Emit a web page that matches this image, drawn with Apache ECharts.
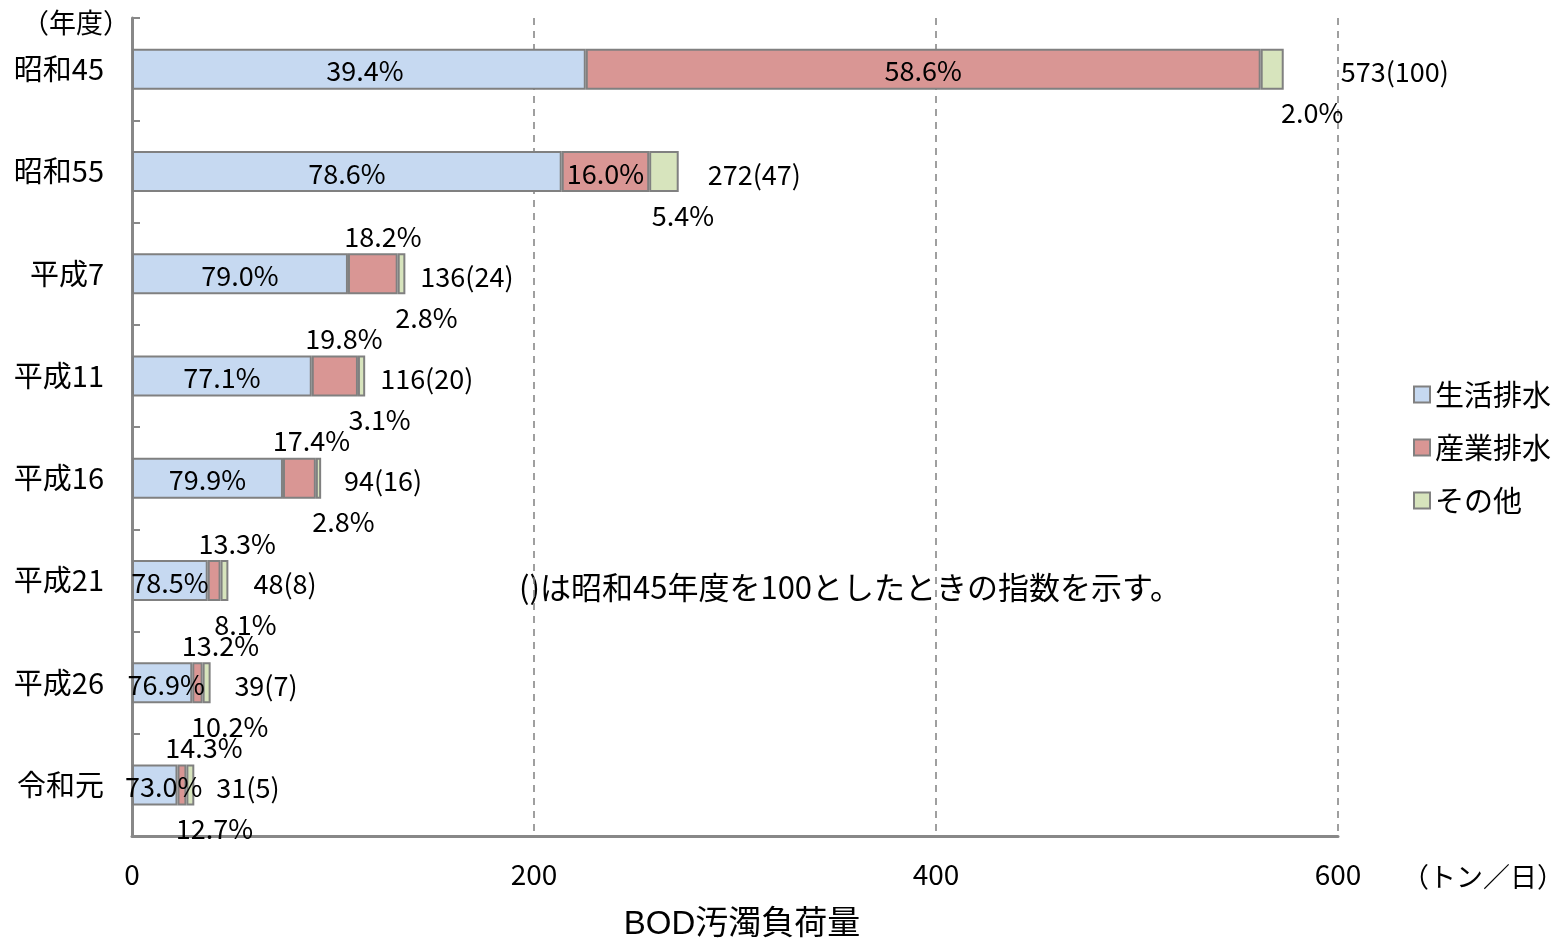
<!DOCTYPE html>
<html><head><meta charset="utf-8">
<script src="https://cdn.jsdelivr.net/npm/echarts@6/dist/echarts.min.js"></script>
<style>html,body{margin:0;padding:0;background:#fff}#c{width:1555px;height:941px}</style>
</head><body><div id="c"></div>
<script>
var categories = ['昭和45','昭和55','平成7','平成11','平成16','平成21','平成26','令和元'];
var totals = [573, 272, 136, 116, 94, 48, 39, 31];
var indexes = [100, 47, 24, 20, 16, 8, 7, 5];
var pctDomestic = [39.4, 78.6, 79.0, 77.1, 79.9, 78.5, 76.9, 73.0];
var pctIndustrial = [58.6, 16.0, 18.2, 19.8, 17.4, 13.3, 13.2, 14.3];
var pctOther = [2.0, 5.4, 2.8, 3.1, 2.8, 8.1, 10.2, 12.7];
var xTicks = [0, 200, 400, 600];

var FONT = '"Noto Sans CJK JP", "Noto Sans", sans-serif';
var seg = function(p){ return totals.map(function(t,i){ return +(t*p[i]/100).toFixed(2); }); };
var vDom = seg(pctDomestic), vInd = seg(pctIndustrial), vOth = seg(pctOther);

// label placement tweaks (pixels)
var blueDx = [6,0,0,0,0,0,4,9];
var redDx = [0,0,10,9,12,23,23,22];
var greenDx = [40,19,25,18,25,21,23,24];
var totalDx = [52,24,10,10,18,20,19,17];

var lbl = {fontSize: 27, color: '#000', fontFamily: FONT};
var border = {borderColor: '#808080', borderWidth: 2};
function L(o){ return Object.assign({show: true, fontSize: 27, color: '#000', fontFamily: FONT}, o); }

var chart = echarts.init(document.getElementById('c'));
chart.setOption({
  animation: false,
  textStyle: {fontFamily: FONT},
  grid: {left: 132, right: 217, top: 18, bottom: 105},
  legend: {
    orient: 'vertical', left: 1408, top: 375, itemWidth: 16, itemHeight: 16, itemGap: 24,
    textStyle: {fontSize: 29, color: '#000', fontFamily: FONT},
    icon: 'rect',
    data: ['生活排水','産業排水','その他']
  },
  xAxis: {
    type: 'value', min: 0, max: 600, interval: 200,
    axisLine: {show: true, lineStyle: {color: '#888', width: 3}},
    axisTick: {show: false},
    axisLabel: {fontSize: 28, color: '#000', margin: 24, fontFamily: FONT,
      formatter: function(v){ return xTicks.indexOf(v) >= 0 ? String(v) : ''; }},
    splitLine: {show: true, lineStyle: {color: '#808080', width: 1.5, type: [7,6]}}
  },
  yAxis: {
    type: 'category', inverse: true, data: categories,
    axisLine: {show: true, lineStyle: {color: '#888', width: 3}},
    axisTick: {show: true, inside: true, length: 8, lineStyle: {color: '#888', width: 2}},
    axisLabel: {fontSize: 29, color: '#000', margin: 28, fontFamily: FONT},
    splitLine: {show: false}
  },
  series: [
    {name: '生活排水', type: 'bar', stack: 's', barWidth: 41,
      itemStyle: Object.assign({color: '#c6d9f1'}, border),
      data: vDom.map(function(v,i){ return {value: v, label: L({position: 'inside', offset: [blueDx[i],2],
        formatter: pctDomestic[i].toFixed(1)+'%'})}; }),
      label: lbl},
    {name: '産業排水', type: 'bar', stack: 's', barWidth: 41,
      itemStyle: Object.assign({color: '#d99694'}, border),
      data: vInd.map(function(v,i){ return {value: v, label: L({position: i < 2 ? 'inside' : 'top', offset: [redDx[i],2],
        formatter: pctIndustrial[i].toFixed(1)+'%'})}; }),
      label: lbl},
    {name: 'その他', type: 'bar', stack: 's', barWidth: 41,
      itemStyle: Object.assign({color: '#d7e4bd'}, border),
      data: vOth.map(function(v,i){ return {value: v, label: L({position: 'bottom', offset: [greenDx[i],5],
        formatter: pctOther[i].toFixed(1)+'%'})}; }),
      label: lbl},
    {name: 'total', type: 'scatter', symbolSize: 0, silent: true,
      itemStyle: {color: '#000', opacity: 1},
      data: totals.map(function(t,i){ return {value: [t, i], label: L({position: 'right', offset: [totalDx[i], 3],
        formatter: t + '(' + indexes[i] + ')'})}; }),
      label: lbl}
  ],
  graphic: [
    {type: 'text', left: 22, top: 9, style: {text: '（年度）', font: '27px ' + FONT, fill: '#000'}},
    {type: 'text', left: 1402, top: 863, style: {text: '（トン／日）', font: '27px ' + FONT, fill: '#000'}},
    {type: 'text', x: 742, y: 925, style: {text: 'BOD汚濁負荷量', font: '33px "Liberation Sans", ' + FONT, fill: '#000', align: 'center', verticalAlign: 'middle'}},
    {type: 'text', x: 850, y: 587, style: {text: '()は昭和45年度を100としたときの指数を示す。', font: '31px ' + FONT, fill: '#000', align: 'center', verticalAlign: 'middle'}}
  ]
});
</script>
</body></html>
